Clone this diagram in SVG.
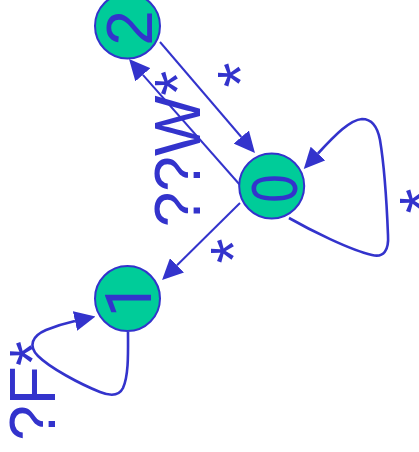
<svg xmlns="http://www.w3.org/2000/svg" width="419" height="452" viewBox="0 0 419 452">
<style>
.node circle{fill:#00cc99;stroke:#3333cc;stroke-width:2}
.t{font-family:"Liberation Sans",Arial,sans-serif;font-size:64px;fill:#3333cc;text-anchor:middle}
.r{font-family:Roboto,"Liberation Sans",Arial,sans-serif}
.edge{fill:none;stroke:#3333cc;stroke-width:2;marker-end:url(#ah)}
.loop{stroke-width:2.6}
</style>
<defs>
<marker id="ah" viewBox="0 0 21 20" refX="0" refY="10" markerWidth="21" markerHeight="20" markerUnits="userSpaceOnUse" orient="auto">
<path d="M0,0 L21,10 L0,20 z" fill="#3333cc"/>
</marker>
</defs>
<g id="connectors">
<path class="edge" d="M160,42 L241.3,137"/>
<path class="edge" d="M240,185 L142.9,74.8"/>
<path class="edge" d="M240,203 L177,265.3"/>
<path class="edge loop" d="M289,218 C310,230 350,250 372,255 C384,258 389,250 388,235 C387,210 385,170 380,140 C377,124 370,119 362,119 C350,120 336,134 318,153.5"/>
<path class="edge loop" d="M128,332 C128,350 129,375 123,388 C119,396 110,396 100,392 C80,384 50,368 38,356 C28,346 32,336 46,330 C56,326 66,323 75,321"/>
<text class="t" transform="translate(263,75) rotate(-90)">*</text>
<text class="t" transform="translate(200,149) rotate(-90)">??W*</text>
<text class="t" transform="translate(445,201) rotate(-90)">*</text>
<text class="t" transform="translate(256,251) rotate(-90)">*</text>
<text class="t" transform="translate(55,391) rotate(-90)">?F*</text>
</g>
<g id="node2" class="node">
<circle cx="127.5" cy="26" r="32.5"/>
<text class="t" transform="translate(152,28) rotate(-90)">2</text>
</g>
<g id="node0" class="node">
<circle cx="271.7" cy="186" r="32.5"/>
<text class="t" transform="translate(296.5,188.5) rotate(-90) scale(0.8,1)">0</text>
</g>
<g id="node1" class="node">
<circle cx="127.5" cy="298.5" r="32.5"/>
<text class="t r" transform="translate(151,299.5) rotate(-90)">1</text>
</g>
</svg>
